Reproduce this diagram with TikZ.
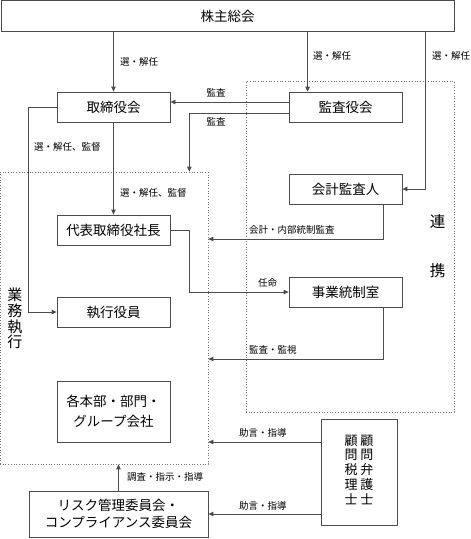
\documentclass[tikz,border=0pt]{standalone}
\usepackage{fontspec}
\setmainfont{Noto Sans CJK JP}
\usetikzlibrary{arrows.meta}

\tikzset{
	box/.style={draw=black!70, line width=0.8pt, minimum width=113pt, minimum height=30pt, inner sep=0pt, align=center, font=\fontsize{13.5}{15}\selectfont},
	zone/.style={draw=black!55, dotted, line width=0.7pt, inner sep=0pt},
	lbl/.style={inner sep=0pt, font=\fontsize{9.5}{11}\selectfont},
	conn/.style={draw=black!70, line width=0.8pt, ->, >={Triangle[length=5pt,width=4.5pt]}},
}

\begin{document}
\begin{tikzpicture}[x=1pt, y=-1pt]
	\useasboundingbox (0,0) rectangle (471,539);
	%dotted areas
	\node (gyomu) [zone, minimum width=208pt, minimum height=292pt] at (104,318) {};
	\node (renkei) [zone, minimum width=208pt, minimum height=331pt] at (350,246.5) {};
	\node (gyomutxt) [align=center, inner sep=0pt, font=\fontsize{15}{15.8}\selectfont] at (15,318.5) {業\\務\\執\\行};
	\node (ren) [inner sep=0pt, font=\fontsize{15.5}{16}\selectfont] at (437.5,221.5) {連};
	\node (kei) [inner sep=0pt, font=\fontsize{15.5}{16}\selectfont] at (437.5,270.5) {携};
	%boxes
	\node (soukai) [box, minimum width=453pt, minimum height=31pt] at (227.5,16) {株主総会};
	\node (torishimari) [box] at (113.5,107) {取締役会};
	\node (kansayaku) [box] at (345.5,107) {監査役会};
	\node (kaikei) [box] at (345.5,189) {会計監査人};
	\node (shacho) [box] at (113.5,230) {代表取締役社長};
	\node (shikkou) [box] at (113.5,312) {執行役員};
	\node (tousei) [box] at (345.5,292) {事業統制室};
	\node (honbu) [box, minimum height=61pt, font=\fontsize{13.5}{20}\selectfont] at (113.5,411.5) {各本部・部門・\\グループ会社};
	\node (risk) [box, minimum width=179pt, minimum height=46pt, font=\fontsize{13.5}{17.5}\selectfont] at (118.5,514) {リスク管理委員会・\\コンプライアンス委員会};
	\node (komon) [box, minimum width=76pt, minimum height=106pt, font=\fontsize{13}{13.4}\selectfont] at (359,472) {\begin{tabular}{@{}c@{\hspace{3pt}}c@{}}顧&顧\\問&問\\税&弁\\理&護\\士&士\end{tabular}};
	%election
	\draw[conn] (torishimari.north |- soukai.south) -- (torishimari.north);
	\coordinate (kin) at ([xshift=19pt]kansayaku.north west);
	\draw[conn] (kin |- soukai.south) -- (kin);
	\coordinate (kup) at (425,31.5);
	\draw[conn] (kup) |- (kaikei.east);
	\node (l1) [lbl, anchor=west] at (120,62) {選・解任};
	\node (l2) [lbl, anchor=west] at (313,56) {選・解任};
	\node (l3) [lbl, anchor=west] at (432,56) {選・解任};
	%audit
	\draw[conn] ([yshift=5pt]kansayaku.west) -- ([yshift=5pt]torishimari.east);
	\draw[conn] ([yshift=-6pt]kansayaku.west) -| ([xshift=-19pt]gyomu.north east);
	\node (l4) [lbl] at (216,93) {監査};
	\node (l5) [lbl] at (216,122) {監査};
	%supervision
	\draw[conn] (torishimari.west) -- ++(-28,0) |- (shikkou.west);
	\draw[conn] (torishimari.south) -- (shacho.north);
	\node (l6) [lbl, anchor=west] at (34,147) {選・解任、監督};
	\node (l7) [lbl, anchor=west] at (120,193) {選・解任、監督};
	\draw[conn] (shacho.east) -- ++(19,0) |- (tousei.west);
	\node (l8) [lbl, anchor=west] at (258,283) {任命};
	\draw[conn] ([xshift=-19pt]kaikei.south east) |- ([yshift=79pt]gyomu.east);
	\node (l9) [lbl, anchor=west] at (249,230) {会計・内部統制監査};
	\draw[conn] ([xshift=-19pt]tousei.south east) |- ([yshift=-41pt]gyomu.east);
	\node (l10) [lbl, anchor=west] at (249,350) {監査・監視};
	%advice
	\coordinate (adv) at ([yshift=30pt]komon.west);
	\draw[conn] (adv) -- (adv -| gyomu.east);
	\draw[conn] (risk.east -| komon.west) -- (risk.east);
	\node (l11) [lbl, anchor=west] at (239,433) {助言・指導};
	\node (l12) [lbl, anchor=west] at (239,506) {助言・指導};
	\draw[conn] (risk.north) -- (risk.north |- gyomu.south);
	\node (l13) [lbl, anchor=west] at (127,477) {調査・指示・指導};
\end{tikzpicture}
\end{document}
